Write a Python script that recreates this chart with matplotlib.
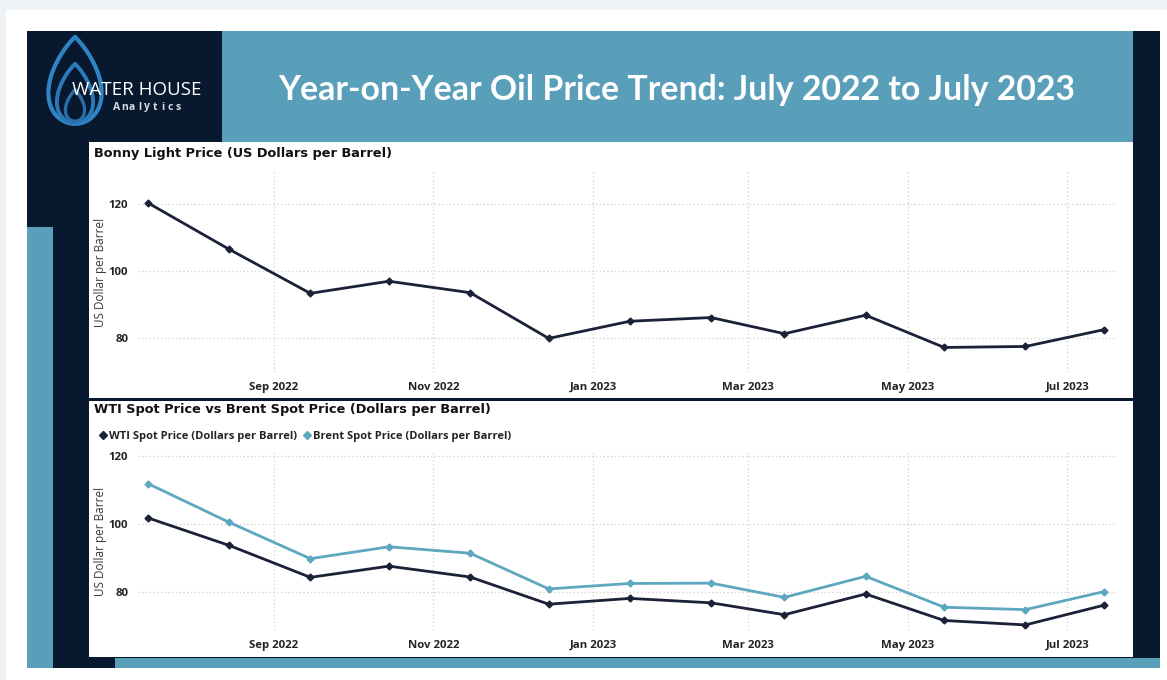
"""Year-on-year oil price dashboard: Bonny Light, WTI and Brent spot prices."""

import datetime as dt

import matplotlib.dates as mdates
import matplotlib.pyplot as plt
import numpy as np
from matplotlib.lines import Line2D
from matplotlib.patches import Rectangle

W, H = 1167, 680

NAVY = "#08182f"
TEAL = "#5a9fba"
DARK_LINE = "#1b2237"
BRENT_COLOR = "#5ea7c0"
GRID = "#cfcfcf"
TEXT = "#252423"

months = ["2022-07", "2022-08", "2022-09", "2022-10", "2022-11", "2022-12", "2023-01",
          "2023-02", "2023-03", "2023-04", "2023-05", "2023-06", "2023-07"]
bonny_light = [120.3, 106.5, 93.4, 97.0, 93.6, 80.0, 85.1, 86.2, 81.4, 86.9, 77.3, 77.6, 82.6]
wti_spot = [101.8, 93.7, 84.3, 87.6, 84.4, 76.4, 78.1, 76.8, 73.3, 79.4, 71.6, 70.3, 76.1]
brent_spot = [111.9, 100.5, 89.8, 93.3, 91.4, 80.9, 82.5, 82.6, 78.4, 84.6, 75.5, 74.8, 80.1]
y_ticks = [80, 100, 120]

title_text = "Year-on-Year Oil Price Trend: July 2022 to July 2023"
bonny_title = "Bonny Light Price (US Dollars per Barrel)"
spot_title = "WTI Spot Price vs Brent Spot Price (Dollars per Barrel)"
wti_label = "WTI Spot Price (Dollars per Barrel)"
brent_label = "Brent Spot Price (Dollars per Barrel)"
y_label = "US Dollar per Barrel"

# monthly averages plotted at mid-month
dates = [dt.datetime.strptime(m + "-15", "%Y-%m-%d") for m in months]

fig = plt.figure(figsize=(W / 100, H / 100), dpi=100)
fig.patch.set_facecolor("#eef3f7")


def rect(x0, y0, x1, y1, color):
    fig.patches.append(Rectangle((x0 / W, 1 - y1 / H), (x1 - x0) / W, (y1 - y0) / H,
                                 transform=fig.transFigure, facecolor=color,
                                 edgecolor="none", zorder=-10))


def box(x0, y0, x1, y1):
    return fig.add_axes([x0 / W, 1 - y1 / H, (x1 - x0) / W, (y1 - y0) / H])


# page layout blocks
rect(6, 10, 1167, 680, "white")
rect(27, 31, 1160, 668, NAVY)
rect(222, 31, 1133, 142, TEAL)
rect(27, 227, 53, 668, TEAL)
rect(115, 658, 1160, 668, TEAL)
rect(89, 142, 1133, 398, "white")
rect(89, 401, 1133, 657, "white")

fig.text(677 / W, 1 - 90 / H, title_text, color="white", fontsize=24.4,
         fontweight="bold", family="Lato", ha="center", va="center")

# logo: nested water drops plus wordmark
logo = box(45, 35, 105, 126)
logo.set_xlim(-0.86, 0.86)
logo.set_ylim(-1.05, 1.05)
logo.axis("off")
t = np.linspace(0, 2 * np.pi, 300)
for scale, dy, lw, col in [(1.0, 0.0, 3.0, "#2f84c4"), (0.68, -0.3, 2.8, "#2b79b8"),
                           (0.36, -0.58, 2.4, "#2a6ea8")]:
    xs = np.sin(t) * np.sin(t / 2) ** 0.8 * scale * 0.95
    ys = np.cos(t) * scale + dy
    logo.plot(xs, ys, color=col, lw=lw, solid_capstyle="round")
fig.text(137 / W, 1 - 90 / H, "WATER HOUSE", color="white", fontsize=13.5,
         family="Open Sans", ha="center", va="center")
for i, ch in enumerate("Analytics"):
    fig.text((117 + i * 7.6) / W, 1 - 107 / H, ch, color="#d8dde5", fontsize=7.5,
             family="Open Sans", fontweight="bold", ha="center", va="center")

x_min = dates[0] - dt.timedelta(days=3.8)
x_max = dates[-1] + dt.timedelta(days=4.2)


def style_axes(ax, ylim):
    ax.set_xlim(x_min, x_max)
    ax.set_ylim(*ylim)
    ax.set_yticks(y_ticks)
    ax.xaxis.set_major_locator(mdates.MonthLocator(bymonth=[1, 3, 5, 7, 9, 11]))
    ax.xaxis.set_major_formatter(mdates.DateFormatter("%b %Y"))
    ax.grid(True, color=GRID, linestyle=(0, (1, 2)), linewidth=0.9)
    ax.set_axisbelow(True)
    for s in ax.spines.values():
        s.set_visible(False)
    ax.tick_params(length=0, labelsize=8.2, labelcolor=TEXT, pad=7)
    for lab in ax.get_xticklabels() + ax.get_yticklabels():
        lab.set_fontweight("bold")
        lab.set_family("Open Sans")
    ax.set_ylabel(y_label, fontsize=8.5, color="#3a3a3a", family="Open Sans")
    ax.yaxis.set_label_coords((107 - 138) / (1115 - 138), 0.5)
    ax.patch.set_alpha(0)


title_font = {"fontsize": 9.3, "fontweight": "bold", "family": "DejaVu Sans",
              "color": "#111111", "va": "center"}

# Bonny Light chart
ax1 = box(138, 172, 1115, 372)
ax1.plot(dates, bonny_light, color=DARK_LINE, lw=2, marker="D", ms=3.5)
style_axes(ax1, (70, 129.5))
fig.text(94 / W, 1 - 153 / H, bonny_title, **title_font)

# WTI vs Brent chart
ax2 = box(138, 452, 1115, 630)
ax2.plot(dates, wti_spot, color=DARK_LINE, lw=2, marker="D", ms=3.5)
ax2.plot(dates, brent_spot, color=BRENT_COLOR, lw=2, marker="D", ms=3.5)
style_axes(ax2, (68.8, 121.2))
fig.text(94 / W, 1 - 410 / H, spot_title, **title_font)

handles = [Line2D([], [], color=DARK_LINE, marker="D", ls="none", ms=4),
           Line2D([], [], color=BRENT_COLOR, marker="D", ls="none", ms=4)]
leg = fig.legend(handles, [wti_label, brent_label], loc="center left",
                 bbox_to_anchor=(90 / W, 1 - 436 / H), ncol=2, frameon=False,
                 handlelength=0.6, handletextpad=0.2, columnspacing=0.6,
                 prop={"size": 8, "weight": "bold", "family": "Open Sans"})
for txt in leg.get_texts():
    txt.set_color(TEXT)

fig.savefig("out.png", dpi=100, facecolor=fig.get_facecolor())
